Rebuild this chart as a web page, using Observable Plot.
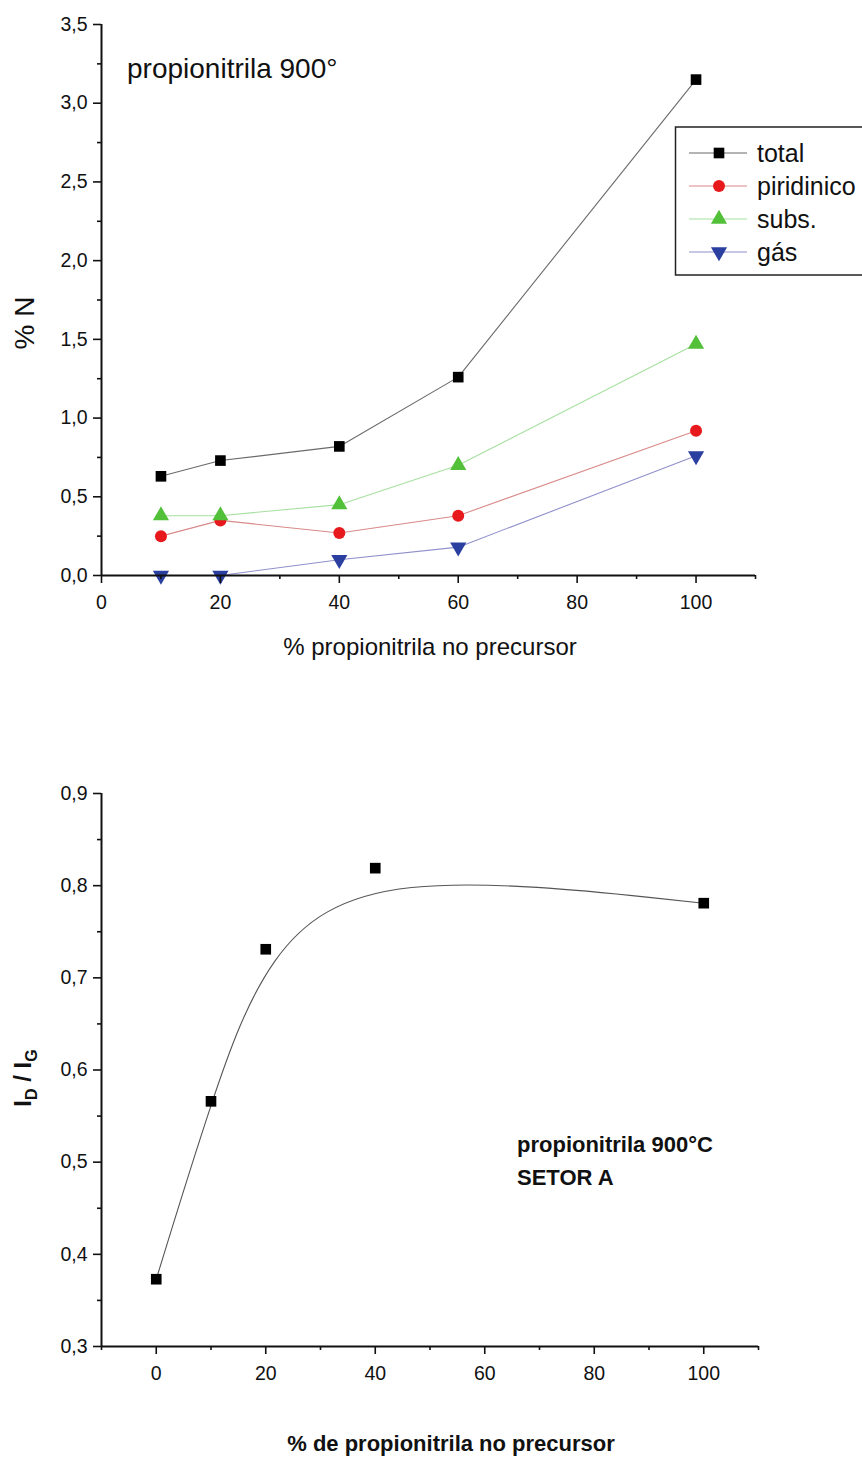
<!DOCTYPE html>
<html><head><meta charset="utf-8">
<script src="https://cdn.jsdelivr.net/npm/d3@7"></script>
<script src="https://cdn.jsdelivr.net/npm/@observablehq/plot@0.6"></script>
<style>
body{margin:0;background:#fff;}
#wrap{position:relative;width:862px;height:1457px;overflow:hidden;background:#fff;}
#wrap svg{display:block;}
#legend{position:absolute;left:0;top:0;}
</style></head><body><div id="wrap"></div>
<script>
// ---------- DATA: chart 1 (% N vs % propionitrila) ----------
const xPercent = [10, 20, 40, 60, 100];
const total = [0.63, 0.73, 0.82, 1.26, 3.15];
const piridinico = [0.25, 0.35, 0.27, 0.38, 0.92];
const subs = [0.38, 0.38, 0.45, 0.70, 1.47];
const gas = [0.00, 0.00, 0.10, 0.18, 0.76];
const seriesNames = ["total", "piridinico", "subs.", "gás"];
const topXTicks = [0, 20, 40, 60, 80, 100];
const topXMinor = [10, 30, 50, 70, 90, 110];
const topYTicks = [0, 0.5, 1.0, 1.5, 2.0, 2.5, 3.0, 3.5];
const topYMinor = [0.25, 0.75, 1.25, 1.75, 2.25, 2.75, 3.25];
const topTitle = "propionitrila 900°";
const topXLabel = "% propionitrila no precursor";
const topYLabel = "% N";

// ---------- DATA: chart 2 (ID/IG vs % propionitrila) ----------
const xRaman = [0, 10, 20, 40, 100];
const idig = [0.373, 0.566, 0.731, 0.819, 0.781];
const botXTicks = [0, 20, 40, 60, 80, 100];
const botXMinor = [-10, 10, 30, 50, 70, 90, 110];
const botYTicks = [0.3, 0.4, 0.5, 0.6, 0.7, 0.8, 0.9];
const botYMinor = [0.35, 0.45, 0.55, 0.65, 0.75, 0.85];
const botNote1 = "propionitrila 900°C";
const botNote2 = "SETOR A";
const botXLabel = "% de propionitrila no precursor";

// ---------- styles (kept apart from data) ----------
const seriesValues = [total, piridinico, subs, gas];
const seriesStyle = [
  {line: "#6a6a6a", fill: "#000000", symbol: "square", rotate: 0},
  {line: "#d98a8a", fill: "#e8191c", symbol: "circle", rotate: 0},
  {line: "#a6e0a0", fill: "#52c038", symbol: "triangle", rotate: 0},
  {line: "#9090cc", fill: "#2a3fa0", symbol: "triangle", rotate: 180}
];
const FONT = "'Liberation Sans', Arial, sans-serif";
const fmt1 = d => d.toFixed(1).replace(".", ",");
const fmt0 = d => String(d);
const R = 6;
const TICKFS = 19.5;

const wrap = document.getElementById("wrap");

function axes(yT, yM, xT, xM) {
  return [
    Plot.axisY({ticks: yT, tickSize: 8, tickPadding: 6, tickFormat: fmt1, strokeWidth: 1.6, fontSize: TICKFS, label: null}),
    Plot.axisY({ticks: yM, tickSize: 4, tickFormat: () => "", strokeWidth: 1.6, label: null}),
    Plot.axisX({ticks: xT, tickSize: 8, tickPadding: 12, tickFormat: fmt0, strokeWidth: 1.6, fontSize: TICKFS, label: null}),
    Plot.axisX({ticks: xM, tickSize: 4, tickFormat: () => "", strokeWidth: 1.6, label: null})
  ];
}
function bigTicks(svgNode) {
  d3.select(svgNode).selectAll('g[aria-label*="tick label"] text')
    .attr("font-size", TICKFS).style("font-size", TICKFS + "px");
}

// ---------- chart 1 ----------
const topRows = seriesNames.map((s, i) => xPercent.map((x, j) => ({series: s, x, y: seriesValues[i][j]})));
const topMarks = [];
topRows.forEach((rows, i) => {
  topMarks.push(Plot.line(rows, {x: "x", y: "y", stroke: seriesStyle[i].line, strokeWidth: 1.1}));
});
topRows.forEach((rows, i) => {
  topMarks.push(Plot.dot(rows, {x: "x", y: "y", r: R, symbol: seriesStyle[i].symbol, rotate: seriesStyle[i].rotate, fill: seriesStyle[i].fill, stroke: "none"}));
});
const plot1 = Plot.plot({
  width: 862, height: 675,
  marginLeft: 101, marginRight: 107, marginTop: 24, marginBottom: 100,
  style: {fontFamily: FONT, fontSize: TICKFS + "px", color: "#111", background: "#fff"},
  x: {domain: [0, 110]},
  y: {domain: [0, 3.5]},
  marks: [
    ...topMarks,
    Plot.ruleY([0], {strokeWidth: 2, stroke: "#111"}),
    Plot.ruleX([0], {strokeWidth: 2, stroke: "#111"}),
    ...axes(topYTicks, topYMinor, topXTicks, topXMinor)
  ]
});
wrap.appendChild(plot1);
bigTicks(plot1);
{
  const svg = d3.select(plot1);
  svg.append("text").attr("x", 127).attr("y", 78).attr("text-anchor", "start").attr("font-size", 28).attr("font-family", FONT).attr("fill", "#111").text(topTitle);
  svg.append("text").attr("transform", "translate(34,323) rotate(-90)").attr("text-anchor", "middle")
    .attr("font-size", 28).attr("font-family", FONT).attr("fill", "#111").text(topYLabel);
  svg.append("text").attr("x", 430).attr("y", 655).attr("text-anchor", "middle")
    .attr("font-size", 24).attr("font-family", FONT).attr("fill", "#111").text(topXLabel);
}

// legend overlay
{
  const lg = d3.select(wrap).append("svg").attr("id", "legend").attr("width", 862).attr("height", 300);
  lg.append("rect").attr("x", 675.5).attr("y", 127).attr("width", 220).attr("height", 148)
    .attr("fill", "#fff").attr("stroke", "#222").attr("stroke-width", 1.5);
  const symMap = {square: d3.symbolSquare, circle: d3.symbolCircle, triangle: d3.symbolTriangle};
  seriesNames.forEach((name, i) => {
    const y = 153 + i * 33;
    const st = seriesStyle[i];
    lg.append("line").attr("x1", 689).attr("x2", 747).attr("y1", y).attr("y2", y).attr("stroke", st.line).attr("stroke-width", 1.1);
    lg.append("path").attr("d", d3.symbol(symMap[st.symbol], Math.PI * R * R)())
      .attr("transform", `translate(719,${y}) rotate(${st.rotate})`).attr("fill", st.fill);
    lg.append("text").attr("x", 757).attr("y", y).attr("dy", "0.35em").attr("text-anchor", "start").attr("font-size", 25)
      .attr("font-family", FONT).attr("fill", "#111").text(name);
  });
}

// ---------- chart 2 ----------
const ramanRows = xRaman.map((x, i) => ({x, y: idig[i]}));
const plot2 = Plot.plot({
  width: 862, height: 782,
  marginLeft: 101, marginRight: 104, marginTop: 118, marginBottom: 111,
  style: {fontFamily: FONT, fontSize: TICKFS + "px", color: "#111", background: "#fff"},
  x: {domain: [-10, 110]},
  y: {domain: [0.3, 0.9]},
  marks: [
    Plot.line(ramanRows, {x: "x", y: "y", curve: "basis", stroke: "#555", strokeWidth: 1.1}),
    Plot.dot(ramanRows, {x: "x", y: "y", r: R, symbol: "square", fill: "#000", stroke: "none"}),
    Plot.ruleY([0.3], {strokeWidth: 2, stroke: "#111"}),
    Plot.ruleX([-10], {strokeWidth: 2, stroke: "#111"}),
    ...axes(botYTicks, botYMinor, botXTicks, botXMinor)
  ]
});
wrap.appendChild(plot2);
bigTicks(plot2);
{
  const svg = d3.select(plot2);
  const note = svg.append("text").attr("text-anchor", "start").attr("font-size", 22).attr("font-weight", "bold").attr("font-family", FONT).attr("fill", "#111");
  note.append("tspan").attr("x", 517).attr("y", 477).text(botNote1);
  note.append("tspan").attr("x", 517).attr("y", 510).text(botNote2);
  const yl = svg.append("text").attr("transform", "translate(31,403) rotate(-90)").attr("text-anchor", "middle")
    .attr("font-size", 24).attr("font-weight", "bold").attr("font-family", FONT).attr("fill", "#111");
  yl.append("tspan").text("I");
  yl.append("tspan").attr("font-size", 16).attr("dy", 6).text("D");
  yl.append("tspan").attr("dy", -6).text(" / I");
  yl.append("tspan").attr("font-size", 16).attr("dy", 6).text("G");
  svg.append("text").attr("x", 451).attr("y", 776).attr("text-anchor", "middle")
    .attr("font-size", 22).attr("font-weight", "bold").attr("font-family", FONT).attr("fill", "#111").text(botXLabel);
}
</script></body></html>
